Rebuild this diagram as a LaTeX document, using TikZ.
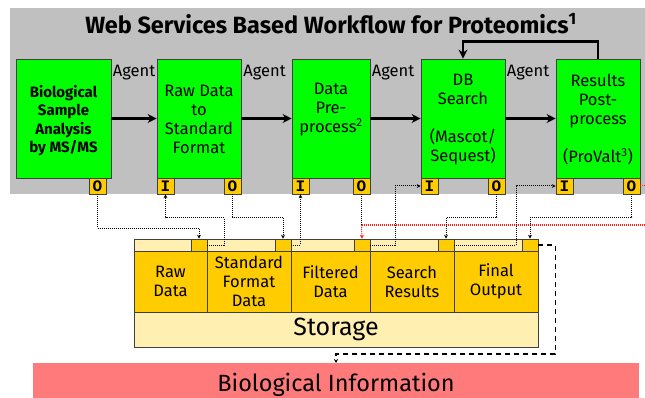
\documentclass[tikz,border=0pt]{standalone}
\usepackage{fontspec}
\setmainfont{Fira Sans}
\setmonofont{Liberation Mono}
\usetikzlibrary{arrows.meta}
\definecolor{bggray}{HTML}{C0C0C0}
\definecolor{procgreen}{HTML}{00FF00}
\definecolor{portyel}{HTML}{FFCC00}
\definecolor{lightyel}{HTML}{FFEFB0}
\definecolor{salmon}{HTML}{FF7B7B}
\definecolor{reddot}{HTML}{FF2020}
\begin{document}
\begin{tikzpicture}[x=1pt,y=-1pt,
  proc/.style={draw=black!75, fill=procgreen, line width=0.8pt, minimum height=119pt, inner sep=0pt},
  port/.style={draw=black!75, fill=portyel, line width=0.6pt, minimum width=17pt, minimum height=16pt, inner sep=0pt, font=\ttfamily\bfseries\fontsize{16}{16}\selectfont},
  sport/.style={draw=black!75, fill=portyel, line width=0.6pt, minimum width=16pt, minimum height=12pt, inner sep=0pt},
  cell/.style={draw=black!75, fill=portyel, line width=0.6pt, minimum height=61pt, inner sep=0pt, align=center, font=\fontsize{16.5}{19}\selectfont},
  boxtxt/.style={align=center, font=\fontsize{16.5}{19}\selectfont, inner sep=0pt},
  agent/.style={font=\fontsize{16.5}{16}\selectfont, inner sep=0pt},
  bigarrow/.style={line width=2.3pt, -{Stealth[length=9pt,width=9pt]}},
  dotline/.style={densely dotted, line width=1pt, -{Stealth[length=4pt,width=4pt]}},
  reddotline/.style={densely dotted, line width=1pt, draw=reddot},
  dashline/.style={dashed, dash pattern=on 5pt off 4pt, line width=1.2pt, -{Stealth[length=4pt,width=4pt]}}
]
\useasboundingbox (0,0) rectangle (645,398);
% gray background band
\fill[bggray] (10,8) rectangle (645,194);
\node[font=\bfseries\fontsize{23.5}{23}\selectfont, inner sep=0pt] (title) at (331,24) {Web Services Based Workflow for Proteomics\textsuperscript{1}};

% process boxes
\node[proc, minimum width=95pt] (b1) at (63.5,118.5) {};
\node[proc, minimum width=84pt] (b2) at (199,118.5) {};
\node[proc, minimum width=78pt] (b3) at (331,118.5) {};
\node[proc, minimum width=84pt] (b4) at (463,118.5) {};
\node[proc, minimum width=84pt] (b5) at (598,118.5) {};

\node[boxtxt, font=\bfseries\fontsize{15}{18.5}\selectfont] (t1) at (63.5,120.5) {Biological\\Sample\\Analysis\\by MS/MS};
\node[boxtxt] (t2) at (199,119.5) {Raw Data\\to\\Standard\\Format};
\node[boxtxt] (t3) at (331,110) {Data\\Pre-\\process\textsuperscript{2}};
\node[boxtxt] (t4) at (463,119.5) {DB\\Search\\\mbox{}\\(Mascot/\\Sequest)};
\node[boxtxt] (t5) at (598,120) {Results\\Post-\\process\\\mbox{}\\(ProValt\textsuperscript{3})};

% ports on process boxes
\node[port] (b1o) at (97.5,186) {O};
\node[port] (b2i) at (165.5,186) {I};
\node[port] (b2o) at (232.5,186) {O};
\node[port] (b3i) at (300.5,186) {I};
\node[port] (b3o) at (361.5,186) {O};
\node[port] (b4i) at (429.5,186) {I};
\node[port] (b4o) at (496.5,186) {O};
\node[port] (b5i) at (564.5,186) {I};
\node[port] (b5o) at (631.5,186) {O};

% agent labels
\node[agent] (a1) at (134,73) {Agent};
\node[agent] (a2) at (264.5,73) {Agent};
\node[agent] (a3) at (393,73) {Agent};
\node[agent] (a4) at (528,73) {Agent};

% main flow arrows
\draw[bigarrow] (b1.east) -- (b2.west);
\draw[bigarrow] (b2.east) -- (b3.west);
\draw[bigarrow] (b3.east) -- (b4.west);
\draw[bigarrow] (b4.east) -- (b5.west);
\draw[bigarrow] (b5.north) -- ++(0,-17) -| (b4.north);

% storage
\node[draw=black!75, fill=lightyel, line width=0.8pt, minimum width=404pt, minimum height=108pt, inner sep=0pt] (stor) at (336,293) {};
\node[cell, minimum width=73pt] (c1) at (170.5,281.5) {Raw\\Data};
\node[cell, minimum width=84pt] (c2) at (249,281.5) {Standard\\Format\\Data};
\node[cell, minimum width=79pt] (c3) at (330.5,281.5) {Filtered\\Data};
\node[cell, minimum width=84pt] (c4) at (412,281.5) {Search\\Results};
\node[cell, minimum width=84pt] (c5) at (496,281.5) {Final\\Output};
\node[font=\fontsize{25}{25}\selectfont, inner sep=0pt] (stext) at (336,329) {Storage};

\node[sport] (sp1) at (199,245) {};
\node[sport] (sp2) at (283,245) {};
\node[sport] (sp3) at (362,245) {};
\node[sport] (sp4) at (446,245) {};
\node[sport] (sp5) at (530,245) {};

% biological information
\node[fill=salmon, minimum width=606pt, minimum height=36pt, inner sep=0pt, anchor=north west] (bio) at (33,363) {};
\node[font=\fontsize{23.5}{23}\selectfont, inner sep=0pt] (biotext) at (336,385) {Biological Information};

% dotted data connectors
\draw[dotline] (b1o.south) -- ++(0,34) -| (sp1.north);
\draw[dotline] (sp1.east) -- ++(17,0) -- ++(0,-27) -| (b2i.south);
\draw[dotline] (b2o.south) -- ++(0,23) -| (sp2.north);
\draw[dotline] (sp2.east) -| (b3i.south);
\coordinate (rp) at (361.5,225);
\coordinate (redend) at (645,225);
\draw[densely dotted, line width=1pt] (b3o.south) -- (rp);
\draw[reddotline, -{Stealth[length=4pt,width=4pt]}] (rp) -- (sp3.north);
\draw[reddotline] (rp) -- (redend);
\coordinate (redend2) at (645,186);
\draw[reddotline] (b5o.east) -- (redend2);
\draw[dotline] (sp3.east) -- ++(25,0) |- (b4i.west);
\draw[dotline] (b4o.south) -- ++(0,23) -| (sp4.north);
\draw[dotline] (sp4.east) -- ++(62,0) |- (b5i.west);
\draw[dotline] (b5o.south) -- ++(0,23) -| (sp5.north);

% dashed output to biological information
\coordinate (dbend) at (336,354);
\draw[dashline] (sp5.east) -- ++(17,0) |- (dbend) -- (dbend |- bio.north);
\end{tikzpicture}
\end{document}
